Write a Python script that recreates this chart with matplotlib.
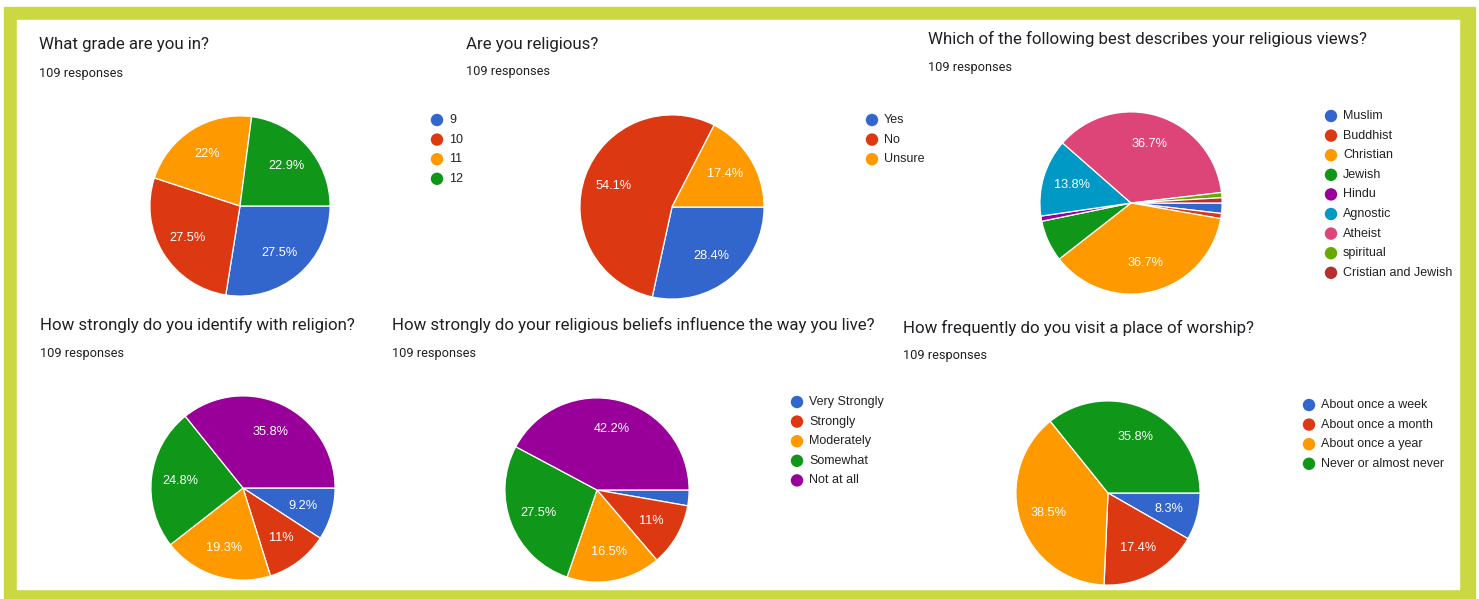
import matplotlib
matplotlib.use("Agg")
import matplotlib.pyplot as plt
from matplotlib.patches import Rectangle

W, H = 1479, 599

# Google chart palette
palette = ["#3366cc", "#dc3912", "#ff9900", "#109618", "#990099",
           "#0099c6", "#dd4477", "#66aa00", "#b82e2e"]

# --- data (response counts, 109 responses each)
grade_labels = ["9", "10", "11", "12"]
grade_counts = [30, 30, 24, 25]

religious_labels = ["Yes", "No", "Unsure"]
religious_counts = [31, 59, 19]

views_labels = ["Muslim", "Buddhist", "Christian", "Jewish", "Hindu",
                "Agnostic", "Atheist", "spiritual", "Cristian and Jewish"]
views_counts = [2, 1, 40, 8, 1, 15, 40, 1, 1]

identify_labels = ["Very Strongly", "Strongly", "Moderately", "Somewhat", "Not at all"]
identify_counts = [10, 12, 21, 27, 39]

influence_labels = ["Very Strongly", "Strongly", "Moderately", "Somewhat", "Not at all"]
influence_counts = [3, 12, 18, 30, 46]

worship_labels = ["About once a week", "About once a month",
                  "About once a year", "Never or almost never"]
worship_counts = [9, 19, 42, 39]

charts = [
    # title, title pos, pie center, radius, labels, counts, legend pos (or None)
    ("What grade are you in?", (39, 45), (240, 206), 91,
     grade_labels, grade_counts, (437, 120)),
    ("Are you religious?", (466, 44), (672, 207), 93,
     religious_labels, religious_counts, (872, 120)),
    ("Which of the following best describes your religious views?", (928, 39),
     (1131, 203), 92, views_labels, views_counts, (1331, 116)),
    ("How strongly do you identify with religion?", (40, 325), (243, 488), 93,
     identify_labels, identify_counts, None),
    ("How strongly do your religious beliefs influence the way you live?", (392, 325),
     (597, 490), 93, influence_labels, influence_counts, (797, 402)),
    ("How frequently do you visit a place of worship?", (903, 328),
     (1108, 493), 93, worship_labels, worship_counts, (1309, 405)),
]

fig = plt.figure(figsize=(W / 100, H / 100), dpi=100)
fig.patch.set_facecolor("white")

# overlay axes in pixel coordinates
ov = fig.add_axes([0, 0, 1, 1])
ov.set_xlim(0, W)
ov.set_ylim(H, 0)
ov.axis("off")

# --- yellow-green frame
border = "#cad941"
ov.add_patch(Rectangle((4, 7), 1471, 592, color=border, zorder=0))
ov.add_patch(Rectangle((17, 20), 1442, 569, color="white", zorder=0))


def fmt_pct(p):
    # slices too small for their text get no label
    if p < 8:
        return ""
    s = f"{p:.1f}"
    if s.endswith(".0"):
        s = s[:-2]
    return s + "%"


for title, (tx, ty), (cx, cy), r, labels, counts, leg in charts:
    ov.text(tx, ty, title, fontsize=12.2, family="Roboto", color="#202124",
            ha="left", va="center")
    ov.text(tx, ty + 28, "109 responses", fontsize=9.2, family="Roboto",
            color="#202124", ha="left", va="center")

    ax = fig.add_axes([(cx - r) / W, 1 - (cy + r) / H, 2 * r / W, 2 * r / H])
    wedges, _, autotexts = ax.pie(
        counts, colors=palette[:len(counts)], startangle=0, counterclock=False,
        autopct=fmt_pct, pctdistance=0.68, radius=1,
        wedgeprops=dict(edgecolor="white", linewidth=0.9),
        textprops=dict(color="white", fontsize=9.2, family="Liberation Sans"))
    ax.set_xlim(-1.01, 1.01)
    ax.set_ylim(-1.01, 1.01)
    ax.set_aspect("equal")

    if leg is not None:
        lx, ly = leg
        for i, lab in enumerate(labels):
            yy = ly + i * 19.6
            ov.scatter([lx], [yy], s=80, color=palette[i], edgecolors="none")
            ov.text(lx + 12, yy, lab, fontsize=9.0, family="Liberation Sans",
                    color="#222222", ha="left", va="center")

fig.savefig("out.png", dpi=100, facecolor="white")
